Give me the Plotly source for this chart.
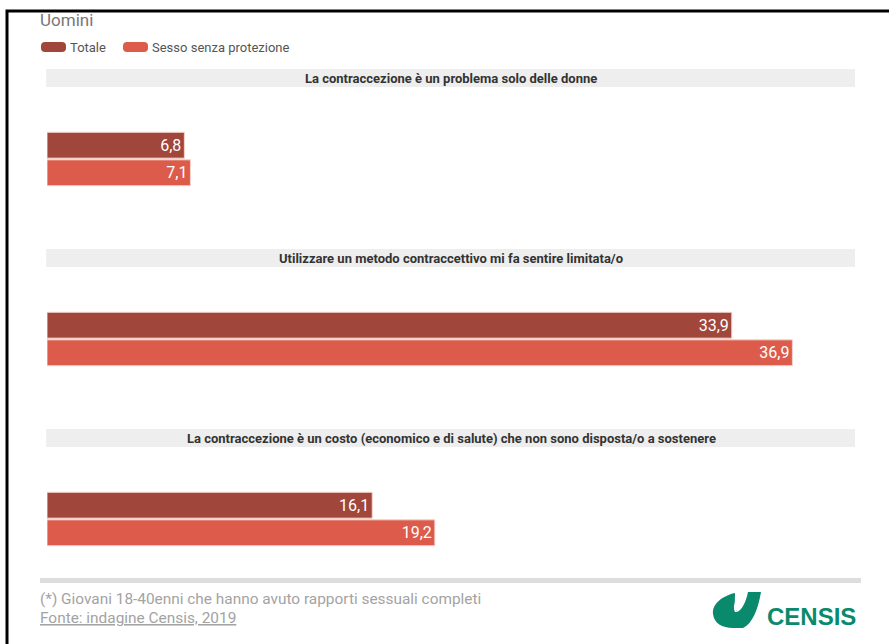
import plotly.graph_objects as go

# dati
domande = [
    "La contraccezione è un problema solo delle donne",
    "Utilizzare un metodo contraccettivo mi fa sentire limitata/o",
    "La contraccezione è un costo (economico e di salute) che non sono disposta/o a sostenere",
]
serie = ["Totale", "Sesso senza protezione"]
totale = [6.8, 33.9, 16.1]
sesso_senza_prot = [7.1, 36.9, 19.2]
colori = ["#a0463a", "#dc5b4a"]

titolo = "Uomini"
nota = "(*) Giovani 18-40enni che hanno avuto rapporti sessuali completi"
fonte = "Fonte: indagine Censis, 2019"

# margini della figura (pixel)
W, H = 890, 644
L, R, T, B = 47, 35, 69, 35
PW, PH = W - L - R, H - T - B


def px(x):
    return (x - L) / PW


def py(y):
    return (H - B - y) / PH


def path_px(points, chiudi=True):
    # points: lista di comandi ("M", x, y) / ("C", x1,y1,x2,y2,x,y) / ("L", x, y)
    out = []
    for p in points:
        cmd = p[0]
        coords = p[1:]
        conv = []
        for i in range(0, len(coords), 2):
            conv.append(f"{px(coords[i]):.5f},{py(coords[i + 1]):.5f}")
        out.append(cmd + " " + " ".join(conv))
    return " ".join(out) + (" Z" if chiudi else "")


def rounded_rect(x0, y0, x1, y1, r):
    return path_px([
        ("M", x0 + r, y0), ("L", x1 - r, y0), ("Q", x1, y0, x1, y0 + r),
        ("L", x1, y1 - r), ("Q", x1, y1, x1 - r, y1), ("L", x0 + r, y1),
        ("Q", x0, y1, x0, y1 - r), ("L", x0, y0 + r), ("Q", x0, y0, x0 + r, y0),
    ])


fig = go.Figure()

for nome, valori, col in zip(serie, [totale, sesso_senza_prot], colori):
    fig.add_trace(go.Bar(
        y=domande,
        x=valori,
        orientation="h",
        name=nome,
        marker=dict(color=col, line=dict(color="#f3d3cc", width=1)),
        texttemplate="%{x:.1f}",
        textposition="inside",
        insidetextanchor="end",
        textfont=dict(family="Roboto", size=16, color="white"),
        hoverinfo="skip",
    ))

shapes = []
annotations = []

# fasce grigie con il titolo di ogni domanda
for i, d in enumerate(domande):
    shapes.append(dict(type="rect", xref="paper", yref="y",
                       x0=-0.001, x1=1, y0=i - 0.5, y1=i - 0.4,
                       fillcolor="#eeeeee", line_width=0, layer="below"))
    annotations.append(dict(text="<b>" + d + "</b>", xref="x", yref="y",
                            x=20, y=i - 0.45, showarrow=False,
                            font=dict(family="Roboto", size=13, color="#333333")))

# cornice nera (solo lato alto e sinistro)
shapes.append(dict(type="path", xref="paper", yref="paper",
                   path=path_px([("M", 7, 644), ("L", 7, 11), ("L", 889, 11)], chiudi=False),
                   line=dict(color="black", width=3)))

# titolo
annotations.append(dict(text=titolo, xref="paper", yref="paper",
                        x=px(38), y=py(20), xanchor="left", yanchor="middle",
                        showarrow=False,
                        font=dict(family="Roboto", size=17, color="#777777")))

# legenda personalizzata
leg_x = [41, 123]
for nome, col, x0 in zip(serie, colori, leg_x):
    shapes.append(dict(type="path", xref="paper", yref="paper",
                       path=rounded_rect(x0, 42, x0 + 25, 52, 4),
                       fillcolor=col, line_width=0))
    annotations.append(dict(text=nome, xref="paper", yref="paper",
                            x=px(x0 + 27), y=py(47), xanchor="left", yanchor="middle",
                            showarrow=False,
                            font=dict(family="Roboto", size=13, color="#555555")))

# piè di pagina
shapes.append(dict(type="rect", xref="paper", yref="paper",
                   x0=px(40), x1=px(861), y0=py(578), y1=py(583),
                   fillcolor="#dddddd", line_width=0))
annotations.append(dict(text=nota, xref="paper", yref="paper",
                        x=px(38), y=py(599), xanchor="left", yanchor="middle",
                        showarrow=False,
                        font=dict(family="Roboto", size=15.4, color="#a3a3a3")))
annotations.append(dict(text="<u>" + fonte + "</u>", xref="paper", yref="paper",
                        x=px(38), y=py(618), xanchor="left", yanchor="middle",
                        showarrow=False,
                        font=dict(family="Roboto", size=15.4, color="#a3a3a3")))

# logo Censis
verde = "#0a8a6c"
shapes.append(dict(type="path", xref="paper", yref="paper",
                   path=path_px([
                       ("M", 735, 593),
                       ("C", 722, 596, 712, 604, 713, 614),
                       ("C", 714, 623, 722, 628, 733, 628),
                       ("L", 743, 628),
                       ("C", 752, 624, 758, 610, 761, 592),
                       ("L", 748, 592),
                       ("C", 746, 602, 742, 610, 737, 612),
                       ("C", 734, 606, 735, 600, 735, 593),
                   ]),
                   fillcolor=verde, line_width=0))
shapes.append(dict(type="path", xref="paper", yref="paper",
                   path=path_px([
                       ("M", 737, 598),
                       ("C", 734, 603, 733, 608, 735, 612),
                       ("L", 737, 612),
                       ("C", 735, 608, 736, 603, 738, 598),
                   ]),
                   fillcolor="white", line_width=0))
annotations.append(dict(text="<b>CENSIS</b>", xref="paper", yref="paper",
                        x=px(765), y=py(616), xanchor="left", yanchor="middle",
                        showarrow=False,
                        font=dict(family="Liberation Sans", size=24, color=verde)))

fig.update_layout(
    width=W, height=H,
    margin=dict(l=L, r=R, t=T, b=B),
    paper_bgcolor="white",
    plot_bgcolor="white",
    barmode="group",
    bargap=0.694,
    bargroupgap=0.06,
    showlegend=False,
    separators=",.",
    font=dict(family="Roboto"),
    xaxis=dict(range=[0, 40], visible=False, fixedrange=True),
    yaxis=dict(type="category", range=[2.5, -0.5], visible=False, fixedrange=True),
    shapes=shapes,
    annotations=annotations,
    hovermode=False,
)

# il body della pagina ha 8px di margine di default: lo tolgo
fig.write_html("out.html", config={"displayModeBar": False},
               post_script="document.body.style.margin='0';document.body.style.overflow='hidden';")
